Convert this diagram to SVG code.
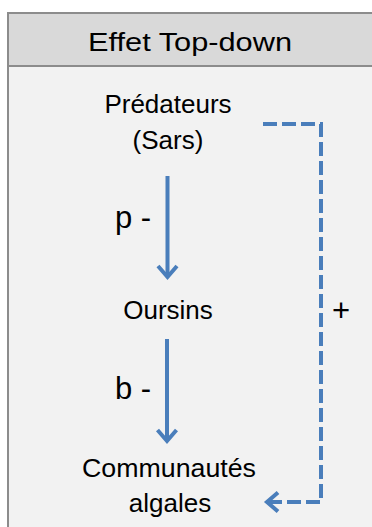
<svg xmlns="http://www.w3.org/2000/svg" width="372" height="527" viewBox="0 0 372 527">
<style>
.t{font-family:"Liberation Sans",Arial,sans-serif;font-size:26px;fill:#000;text-anchor:middle}
.lbl{font-family:"Liberation Sans",Arial,sans-serif;font-size:31px;fill:#000}
.solid{stroke:#4A7EBB;stroke-width:4;fill:none}
.dash{stroke:#4A7EBB;stroke-width:4;fill:none;stroke-dasharray:14 5}
</style>
<defs>
<marker id="head" markerUnits="userSpaceOnUse" viewBox="-16 -12 20 24" refX="0" refY="0" markerWidth="20" markerHeight="24" orient="auto" overflow="visible">
<path d="M-11,-9.5 L0,0 L-11,9.5" fill="none" stroke="#4A7EBB" stroke-width="4" stroke-dasharray="none" stroke-linejoin="miter"/>
</marker>
</defs>
<g id="frame">
<rect x="8" y="13" width="400" height="600" fill="#F2F2F2" stroke="#8C8C8C" stroke-width="2"/>
<rect x="8" y="13" width="400" height="53" fill="#D9D9D9" stroke="#8C8C8C" stroke-width="2"/>
<text class="t" x="190" y="51" font-size="27" textLength="204" lengthAdjust="spacingAndGlyphs">Effet Top-down</text>
</g>
<g id="connectors">
<line class="solid" x1="167.5" y1="176" x2="167.5" y2="277" marker-end="url(#head)"/>
<line class="solid" x1="167" y1="339" x2="167" y2="441" marker-end="url(#head)"/>
<path class="dash" d="M263,124 H321 V502 H267" marker-end="url(#head)"/>
<text class="lbl" x="115" y="228">p -</text>
<text class="lbl" x="115" y="399">b -</text>
<text class="lbl" x="332" y="321" font-size="28">+</text>
</g>
<g id="node-predateurs">
<text class="t" x="168" y="113">Prédateurs</text>
<text class="t" x="168" y="149">(Sars)</text>
</g>
<g id="node-oursins">
<text class="t" x="168" y="319">Oursins</text>
</g>
<g id="node-algues">
<text class="t" x="169" y="477" textLength="174" lengthAdjust="spacingAndGlyphs">Communautés</text>
<text class="t" x="170" y="512">algales</text>
</g>
</svg>
